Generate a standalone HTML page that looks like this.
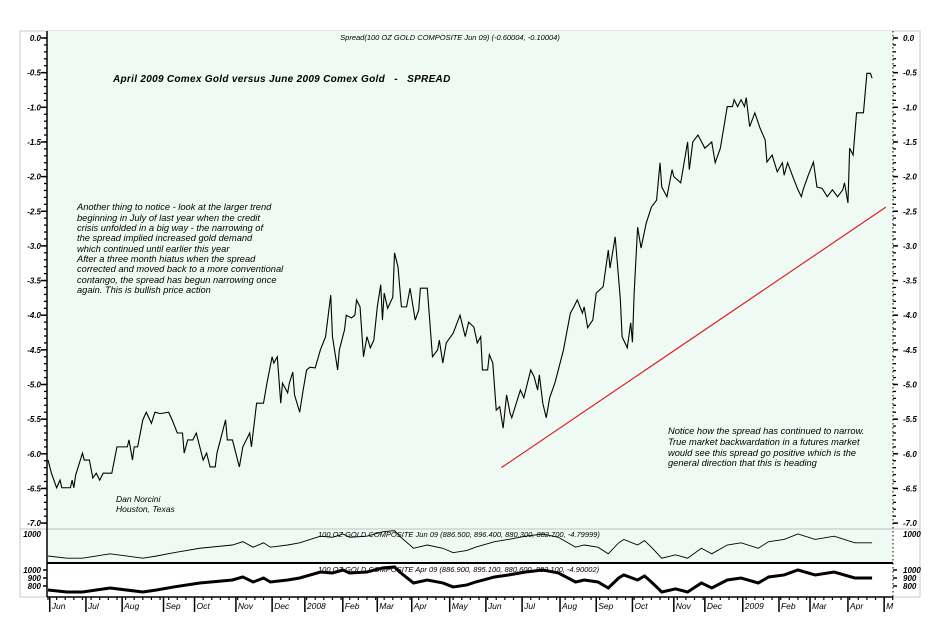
<!DOCTYPE html>
<html><head><meta charset="utf-8"><style>
body{margin:0;background:#fff;}
svg{display:block;font-family:"Liberation Sans",Arial,sans-serif;}
.it{font-style:italic;}
</style></head><body>
<svg id="chart" width="950" height="644" viewBox="0 0 950 644">
<rect x="20" y="31" width="900" height="566" fill="#fff" stroke="#c8c8c8"/>
<rect x="47" y="31" width="846" height="532" fill="#eefaf3"/>
<line x1="20" y1="529" x2="920" y2="529" stroke="#c0c0c0"/>
<line x1="47" y1="563" x2="893" y2="563" stroke="#000" stroke-width="2"/>
<line x1="47" y1="31" x2="47" y2="597" stroke="#000" stroke-width="1.5"/>
<line x1="893" y1="31" x2="893" y2="597" stroke="#000" stroke-width="1" stroke-dasharray="1.5,2.5"/>
<line x1="47" y1="597" x2="893" y2="597" stroke="#000" stroke-width="1.5"/>
<g id="ticks"></g>
<text x="450" y="40" font-size="7.5" class="it" text-anchor="middle">Spread(100 OZ GOLD COMPOSITE Jun 09) (-0.60004, -0.10004)</text>
<text x="113" y="82" font-size="10" font-weight="bold" class="it" letter-spacing="0.3" style="white-space:pre">April 2009 Comex Gold versus June 2009 Comex Gold   -   SPREAD</text>
<g font-size="9.3" class="it">
<text x="77" y="210">Another thing to notice - look at the larger trend</text>
<text x="77" y="221">beginning in July of last year when the credit</text>
<text x="77" y="231">crisis unfolded in a big way - the narrowing of</text>
<text x="77" y="241">the spread implied increased gold demand</text>
<text x="77" y="252">which continued until earlier this year</text>
<text x="77" y="262">After a three month hiatus when the spread</text>
<text x="77" y="272">corrected and moved back to a more conventional</text>
<text x="77" y="283">contango, the spread has begun narrowing once</text>
<text x="77" y="293">again. This is bullish price action</text>
</g>
<g font-size="9.3" class="it">
<text x="668" y="434">Notice how the spread has continued to narrow.</text>
<text x="668" y="445">True market backwardation in a futures market</text>
<text x="668" y="456">would see this spread go positive which is the</text>
<text x="668" y="466">general direction that this is heading</text>
</g>
<g font-size="8.5" class="it">
<text x="116" y="502">Dan Norcini</text>
<text x="116" y="512">Houston, Texas</text>
</g>
<text x="318" y="537" font-size="7.5" class="it">100 OZ GOLD COMPOSITE Jun 09 (886.500, 896.400, 880.300, 882.700, -4.79999)</text>
<text x="318" y="572" font-size="7.5" class="it">100 OZ GOLD COMPOSITE Apr 09 (886.900, 895.100, 880.600, 882.100, -4.90002)</text>
<g id="marks"></g>
</svg>
<script>
const spreadDays=[0,2,5,7,8,13,14,15,16,20,21,24,26,28,30,32,37,40,46,47,49,50,52,55,57,60,62,65,70,72,75,78,79,81,84,86,90,92,94,97,98,100,103,104,107,111,113,117,118,121,123,125,127,130,131,133,135,136,139,140,142,143,146,148,150,152,155,158,161,164,165,168,169,172,173,176,178,179,181,183,185,187,189,191,193,194,195,197,200,201,203,205,208,210,213,215,216,220,223,226,227,229,231,235,239,242,244,247,249,251,252,255,256,258,260,262,264,266,268,269,274,276,280,282,284,285,287,289,291,294,296,299,303,305,307,310,311,313,316,318,322,325,326,329,332,333,336,338,339,340,342,344,347,350,353,355,356,359,362,363,367,371,372,374,377,381,385,387,390,394,397,398,400,402,404,405,407,410,413,416,417,420,423,426,427,429,432,435,437,438,441,444,446,449,452,455,458,461,462,464,465,467,469,473,475,477,478];
const spreadValues=[-6.09,-6.28,-6.49,-6.38,-6.49,-6.49,-6.38,-6.49,-6.31,-5.99,-6.09,-6.09,-6.35,-6.28,-6.38,-6.28,-6.28,-5.90,-5.90,-5.80,-6.09,-5.90,-5.90,-5.51,-5.40,-5.56,-5.40,-5.42,-5.40,-5.51,-5.70,-5.70,-5.99,-5.80,-5.80,-5.70,-6.09,-5.99,-6.19,-6.19,-5.99,-5.80,-5.51,-5.80,-5.80,-6.19,-5.90,-5.70,-5.90,-5.27,-5.27,-5.27,-4.98,-4.60,-4.69,-4.60,-5.27,-4.98,-5.12,-4.98,-4.82,-5.15,-5.40,-5.08,-4.79,-4.75,-4.76,-4.50,-4.31,-3.71,-4.31,-4.79,-4.50,-4.21,-4.00,-4.04,-4.00,-3.78,-3.88,-4.60,-4.31,-4.47,-4.36,-3.88,-3.56,-4.07,-3.68,-3.90,-3.74,-3.10,-3.30,-3.88,-3.88,-3.61,-4.07,-3.93,-3.61,-3.61,-4.60,-4.50,-4.36,-4.69,-4.40,-4.26,-4.00,-4.31,-4.10,-4.17,-4.40,-4.31,-4.79,-4.79,-4.57,-4.69,-5.37,-5.32,-5.63,-5.15,-5.41,-5.48,-5.08,-5.19,-4.79,-4.89,-5.08,-4.86,-5.27,-5.48,-5.19,-4.98,-4.79,-4.50,-3.97,-3.88,-3.78,-3.97,-3.88,-4.18,-4.07,-3.68,-3.59,-3.06,-3.32,-2.87,-3.78,-4.31,-4.47,-4.11,-4.39,-3.68,-2.73,-3.03,-2.67,-2.44,-2.34,-1.80,-2.15,-2.29,-1.90,-2.00,-2.09,-1.50,-1.90,-1.50,-1.40,-1.59,-1.50,-1.80,-1.59,-0.99,-0.99,-0.89,-0.99,-0.89,-0.99,-0.86,-1.28,-1.08,-1.30,-1.47,-1.79,-1.69,-1.93,-1.80,-1.98,-1.80,-2.00,-2.19,-2.29,-2.19,-1.98,-1.79,-2.15,-2.17,-2.29,-2.19,-2.29,-2.19,-2.09,-2.38,-1.59,-1.69,-1.08,-1.08,-0.51,-0.51,-0.58];
const priceDays=[0,11,20,36,55,63,73,88,107,113,119,125,129,139,146,158,165,171,175,185,194,201,204,212,220,229,235,243,248,259,267,277,287,296,306,311,319,325,331,334,342,346,350,356,364,371,379,385,394,402,412,418,427,435,445,456,468,478];
const priceValues=[750,725,725,775,725,750,788,838,875,913,850,900,850,875,900,975,963,1000,963,975,1025,1038,975,838,875,838,788,813,850,913,938,975,1000,963,850,875,850,775,900,938,875,925,850,725,763,725,838,775,875,900,838,913,938,1000,938,975,900,900];
const trendDays=[263,486];
const trendValues=[-6.20,-2.44];
const spreadTicks=[0,-0.5,-1,-1.5,-2,-2.5,-3,-3.5,-4,-4.5,-5,-5.5,-6,-6.5,-7];
const tickLabels=["0.0","-0.5","-1.0","-1.5","-2.0","-2.5","-3.0","-3.5","-4.0","-4.5","-5.0","-5.5","-6.0","-6.5","-7.0"];
const monthLabels=["Jun","Jul","Aug","Sep","Oct","Nov","Dec","2008","Feb","Mar","Apr","May","Jun","Jul","Aug","Sep","Oct","Nov","Dec","2009","Feb","Mar","Apr","M"];
const monthDays=[1,22,43,67,85,109,130,149,171,191,211,233,254,275,297,318,339,363,381,403,424,442,464,485];
const priceTicksBottom=[1000,900,800];

const NS="http://www.w3.org/2000/svg";
const xS=d=>48+d*1.724;
const yS=v=>38-v*69.3;
const yMid=p=>534+(1000-p)*0.088;
const yBot=p=>570+(1000-p)*0.08;
const marks=document.getElementById('marks');
const ticks=document.getElementById('ticks');
function mk(tag,attrs,parent){const e=document.createElementNS(NS,tag);for(const k in attrs)e.setAttribute(k,attrs[k]);parent.appendChild(e);return e;}

for(let v=0;v>=-7.001;v-=0.1){
  const y=yS(v);
  const t=mk('line',{x1:44,x2:47,y1:y,y2:y,stroke:'#000','stroke-width':1.3},ticks);
  
  
  const t2=mk('line',{x1:893,x2:896,y1:y,y2:y,stroke:'#000','stroke-width':1.3},ticks);
  
  
}
spreadTicks.forEach((v,i)=>{
  const y=yS(v);
  const l=mk('text',{x:41,y:y+3,'font-size':8,'text-anchor':'end','font-style':'italic','font-weight':'bold'},ticks);
  l.textContent=tickLabels[i];
  
  
  const r=mk('text',{x:903,y:y+3,'font-size':8,'font-style':'italic','font-weight':'bold'},ticks);
  r.textContent=tickLabels[i];
  
  
  mk('line',{x1:41,x2:47,y1:y,y2:y,stroke:'#000','stroke-width':1.5},ticks);
  mk('line',{x1:893,x2:898,y1:y,y2:y,stroke:'#000','stroke-width':1.5},ticks);
});
[[yMid(1000),'1000']].forEach(([y,s])=>{
  const a=mk('text',{x:41,y:y+3,'font-size':8,'text-anchor':'end','font-style':'italic','font-weight':'bold'},ticks);a.textContent=s;
  
  
  const b=mk('text',{x:903,y:y+3,'font-size':8,'font-style':'italic','font-weight':'bold'},ticks);b.textContent=s;
  
  
});
priceTicksBottom.forEach(p=>{
  const y=yBot(p);
  const a=mk('text',{x:41,y:y+3,'font-size':8,'text-anchor':'end','font-style':'italic','font-weight':'bold'},ticks);a.textContent=p;
  
  
  const b=mk('text',{x:903,y:y+3,'font-size':8,'font-style':'italic','font-weight':'bold'},ticks);b.textContent=p;
  
  
  mk('line',{x1:43,x2:47,y1:y,y2:y,stroke:'#000','stroke-width':1.5},ticks);
  mk('line',{x1:893,x2:897,y1:y,y2:y,stroke:'#000','stroke-width':1.5},ticks);
});
monthLabels.forEach((m,i)=>{
  const x=xS(monthDays[i]);
  const tl=mk('line',{x1:x,x2:x,y1:597,y2:612,stroke:'#000','stroke-width':1.5},ticks);
  
  
  const t=mk('text',{x:x+2,y:609,'font-size':8.5,'font-style':'italic'},ticks);
  t.textContent=m;
  
  
});
for(let d=0;d<=490;d+=5){mk('line',{x1:xS(d),x2:xS(d),y1:597,y2:600,stroke:'#000','stroke-width':1.2},ticks);}

const sp=mk('polyline',{points:spreadDays.map((d,i)=>xS(d)+','+yS(spreadValues[i])).join(' '),fill:'none',stroke:'#000','stroke-width':1.1},marks);


const tr=mk('line',{x1:xS(trendDays[0]),y1:yS(trendValues[0]),x2:xS(trendDays[1]),y2:yS(trendValues[1]),stroke:'#e02020','stroke-width':1.2},marks);


const pm=mk('polyline',{points:priceDays.map((d,i)=>xS(d)+','+yMid(priceValues[i])).join(' '),fill:'none',stroke:'#000','stroke-width':0.9},marks);


const pb=mk('polyline',{points:priceDays.map((d,i)=>xS(d)+','+yBot(priceValues[i])).join(' '),fill:'none',stroke:'#000','stroke-width':3},marks);


</script>
</body></html>
